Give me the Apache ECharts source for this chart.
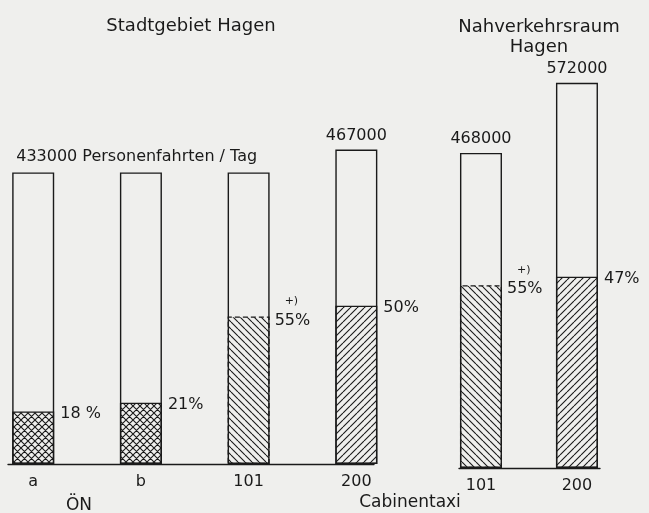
<!DOCTYPE html>
<html>
<head>
<meta charset="utf-8">
<script src="https://cdn.jsdelivr.net/npm/echarts@6/dist/echarts.min.js"></script>
<style>html,body{margin:0;padding:0;background:#efefed;}#c{width:649px;height:513px;}</style>
</head>
<body>
<div id="c"></div>
<script>
// ---- data ----
const categoriesCity = ['a', 'b', '101', '200'];
const totalsCity = [433000, 433000, 433000, 467000];
const sharesCity = [78000, 91000, 219000, 235000];      // hatched part as drawn
const pctLabelsCity = ['18 %', '21%', '55%', '50%'];
const notesCity = ['', '', '+)', ''];
const showTotalCity = [true, false, false, true];

const categoriesRegion = ['101', '200'];
const totalsRegion = [468000, 572000];
const sharesRegion = [271500, 284000];
const pctLabelsRegion = ['55%', '47%'];
const notesRegion = ['+)', ''];
const showTotalRegion = [true, true];

const unitText = 'Personenfahrten / Tag';
const groupTitles = ['Stadtgebiet Hagen', 'Nahverkehrsraum\nHagen'];
const systemNames = ['ÖN', 'Cabinentaxi'];

// ---- styling ----
const INK = '#1a1a1a';
const FONT = 'DejaVu Sans';
const BAR_W = 42;
const hatchByCat = { a: 'cross', b: 'cross', '101': 'back', '200': 'fwd' };

function makePattern(type) {
  const s = 7;
  const c = document.createElement('canvas');
  c.width = s; c.height = s;
  const g = c.getContext('2d');
  g.strokeStyle = INK; g.lineWidth = 1.1;
  g.beginPath();
  for (const k of [-s, 0, s]) {
    if (type === 'back' || type === 'cross') { g.moveTo(k, 0); g.lineTo(k + s, s); }
    if (type === 'fwd' || type === 'cross') { g.moveTo(k, s); g.lineTo(k + s, 0); }
  }
  g.stroke();
  return { image: c, repeat: 'repeat' };
}
const patterns = { cross: makePattern('cross'), back: makePattern('back'), fwd: makePattern('fwd') };

function buildSeries(gi, cats, totals, shares, pcts, notes, showTot, withUnit) {
  const hatched = cats.map((c, i) => {
    const note = notes[i];
    return {
      value: [i, shares[i]],
      itemStyle: { color: patterns[hatchByCat[c]], borderType: note ? [5, 3] : 'solid' },
      label: note ? {
        formatter: '{n|' + note + '}\n{p|' + pcts[i] + '}',
        verticalAlign: 'bottom', offset: [5, 13]
      } : { formatter: pcts[i], verticalAlign: 'middle', offset: [6, 2] }
    };
  });
  const outline = cats.map((c, i) => {
    const isUnit = withUnit && i === 0;
    return {
      value: [i, totals[i]],
      label: isUnit ? {
        show: true, formatter: totals[i] + ' ' + unitText,
        position: [4, -8], align: 'left', verticalAlign: 'bottom'
      } : { show: showTot[i], formatter: String(totals[i]), position: 'top', distance: 6 }
    };
  });
  return [
    {
      type: 'bar', xAxisIndex: gi, yAxisIndex: gi, barWidth: BAR_W, z: 3,
      itemStyle: { borderColor: INK, borderWidth: 1.3 },
      label: {
        show: true, position: ['100%', 0], align: 'left', color: INK,
        fontFamily: FONT, fontSize: 16,
        rich: {
          n: { fontFamily: FONT, fontSize: 11, color: INK, lineHeight: 20, padding: [0, 0, 0, 10] },
          p: { fontFamily: FONT, fontSize: 16, color: INK, lineHeight: 18 }
        }
      },
      data: hatched, animation: false
    },
    {
      type: 'bar', xAxisIndex: gi, yAxisIndex: gi, barWidth: BAR_W, barGap: '-100%', z: 4,
      itemStyle: { color: 'transparent', borderColor: INK, borderWidth: 1.4 },
      label: { color: INK, fontFamily: FONT, fontSize: 16 },
      data: outline, animation: false
    }
  ];
}

function xAxisFor(gi, cats, min, max) {
  return {
    type: 'value', gridIndex: gi, min: min, max: max,
    axisLine: { show: true, lineStyle: { color: INK, width: 1.4 } },
    axisTick: { show: false }, splitLine: { show: false },
    axisLabel: {
      customValues: cats.map((c, i) => i),
      formatter: v => cats[Math.round(v)] || '',
      color: INK, fontFamily: FONT, fontSize: 16, margin: 10
    }
  };
}

const chart = echarts.init(document.getElementById('c'), null, { renderer: 'canvas' });
chart.setOption({
  backgroundColor: '#efefed',
  animation: false,
  textStyle: { fontFamily: FONT, color: INK },
  title: [
    { text: groupTitles[0], left: 186, top: 12, textAlign: 'center',
      textStyle: { fontFamily: FONT, fontWeight: 'normal', fontSize: 18, color: INK } },
    { text: groupTitles[1], left: 534, top: 12, textAlign: 'center',
      textStyle: { fontFamily: FONT, fontWeight: 'normal', fontSize: 18, color: INK, lineHeight: 20 } },
    { text: systemNames[0], left: 74, top: 492, textAlign: 'center',
      textStyle: { fontFamily: FONT, fontWeight: 'normal', fontSize: 17, color: INK } },
    { text: systemNames[1], left: 405, top: 489, textAlign: 'center',
      textStyle: { fontFamily: FONT, fontWeight: 'normal', fontSize: 17, color: INK } }
  ],
  grid: [
    { left: 8, top: 60, width: 366, height: 404 },
    { left: 459, top: 64, width: 141, height: 404 }
  ],
  xAxis: [
    xAxisFor(0, categoriesCity, -0.234, 3.164),
    xAxisFor(1, categoriesRegion, -0.229, 1.24)
  ],
  yAxis: [
    { type: 'value', gridIndex: 0, min: 0, max: 600000, show: false },
    { type: 'value', gridIndex: 1, min: 0, max: 600000, show: false }
  ],
  series: [
    ...buildSeries(0, categoriesCity, totalsCity, sharesCity, pctLabelsCity, notesCity, showTotalCity, true),
    ...buildSeries(1, categoriesRegion, totalsRegion, sharesRegion, pctLabelsRegion, notesRegion, showTotalRegion, false)
  ]
});
</script>
</body>
</html>
